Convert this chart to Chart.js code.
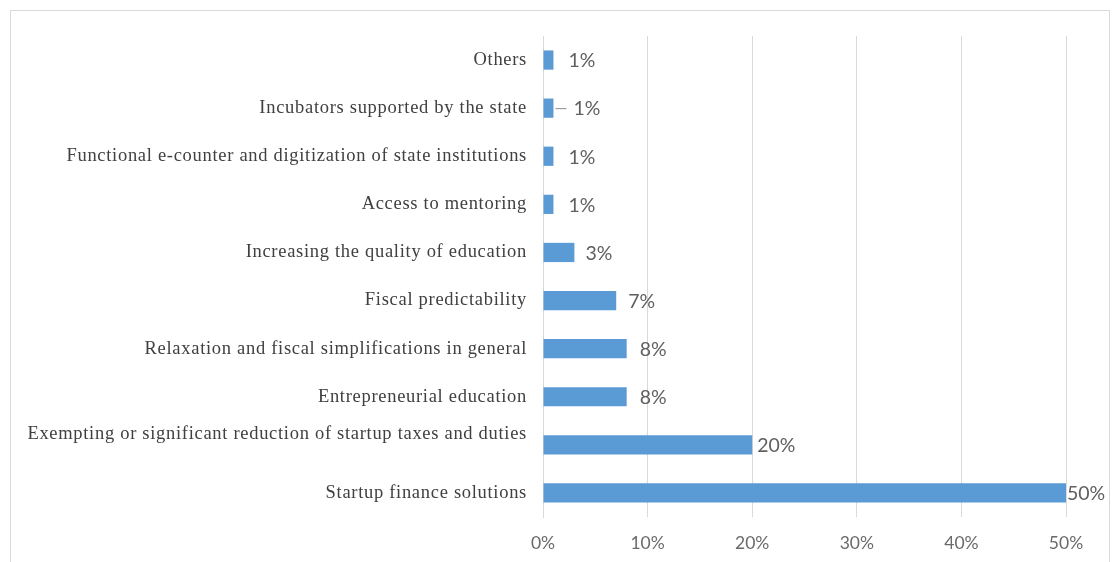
<!DOCTYPE html>
<html>
<head>
<meta charset="utf-8">
<script src="https://cdn.jsdelivr.net/npm/chart.js@4.4.1/dist/chart.umd.min.js"></script>
<style>
  html, body { margin: 0; padding: 0; background: #ffffff; }
  #wrap { position: relative; width: 1116px; height: 562px; overflow: hidden; }
  #frame { position: absolute; left: 10px; top: 10px; width: 1100px; height: 600px;
           border: 1px solid #d9d9d9; box-sizing: border-box; pointer-events: none; }
  canvas { position: absolute; left: 0; top: 0; }
</style>
</head>
<body>
<div id="wrap">
  <canvas id="chart" width="1116" height="562"></canvas>
  <div id="frame"></div>
</div>
<script>
// Measures for supporting startups, share of respondents (%)
const categories = [
  "Others",
  "Incubators supported by the state",
  "Functional e-counter and digitization of state institutions",
  "Access to mentoring",
  "Increasing the quality of education",
  "Fiscal predictability",
  "Relaxation and fiscal simplifications in general",
  "Entrepreneurial education",
  ["Exempting or significant reduction of startup taxes and duties", ""],
  "Startup finance solutions"
];
const shares = [1, 1, 1, 1, 3, 7, 8, 8, 20, 50];
const axisTicks = [0, 10, 20, 30, 40, 50];

// Value labels placed to the right of each bar
const valueLabels = {
  id: 'valueLabels',
  afterDatasetsDraw(chart) {
    const ctx = chart.ctx;
    const meta = chart.getDatasetMeta(0);
    const gaps = [15, 20, 15, 15, 11, 12, 13, 13, 5, 1];
    ctx.save();
    ctx.font = '400 19.5px Lato';
    ctx.fillStyle = '#5f5f5f';
    ctx.textAlign = 'left';
    ctx.textBaseline = 'middle';
    meta.data.forEach((bar, i) => {
      const v = chart.data.datasets[0].data[i];
      const gap = gaps[i] !== undefined ? gaps[i] : 8;
      if (i === 1) {
        // short leader line for a label pulled away from its bar
        ctx.strokeStyle = '#8c8c8c';
        ctx.lineWidth = 1;
        ctx.beginPath();
        ctx.moveTo(bar.x + 2, bar.y + 0.5);
        ctx.lineTo(bar.x + 13, bar.y + 0.5);
        ctx.stroke();
      }
      ctx.fillText(v + '%', bar.x + gap, bar.y + 1);
    });
    ctx.restore();
  }
};

// Slightly looser tracking for the category names
const spacedCategoryLabels = {
  id: 'spacedCategoryLabels',
  afterLayout(chart) {
    const s = chart.scales.y;
    if (s._spaced) return;
    const orig = s.drawLabels.bind(s);
    s.drawLabels = function (area) {
      const c = this.ctx;
      const prev = c.letterSpacing;
      c.letterSpacing = '0.7px';
      orig(area);
      c.letterSpacing = prev;
    };
    s._spaced = true;
  }
};

new Chart(document.getElementById('chart'), {
  type: 'bar',
  data: {
    labels: categories,
    datasets: [{
      data: shares,
      backgroundColor: '#5b9bd5',
      categoryPercentage: 1.0,
      barPercentage: 0.4
    }]
  },
  options: {
    indexAxis: 'y',
    responsive: false,
    animation: false,
    layout: { padding: { top: 36, right: 50, left: 0, bottom: 0 } },
    plugins: {
      legend: { display: false },
      tooltip: { enabled: false }
    },
    scales: {
      x: {
        min: 0,
        max: 50,
        afterBuildTicks(scale) {
          scale.ticks = axisTicks.map(v => ({ value: v }));
        },
        afterFit(scale) { scale.height = 45; },
        grid: { color: '#d9d9d9', lineWidth: 1, drawTicks: false },
        border: { display: false },
        ticks: {
          padding: 16,
          color: '#6a6a6a',
          font: { family: 'Lato', size: 17.5, weight: '400' },
          callback: v => v + '%'
        }
      },
      y: {
        afterFit(scale) { scale.width = 543; },
        grid: { display: false, drawTicks: false },
        border: { display: true, color: '#d9d9d9', width: 1 },
        ticks: {
          padding: 16,
          color: '#404040',
          font: { family: 'Liberation Serif', size: 18.5 }
        }
      }
    }
  },
  plugins: [valueLabels, spacedCategoryLabels]
});
</script>
</body>
</html>
